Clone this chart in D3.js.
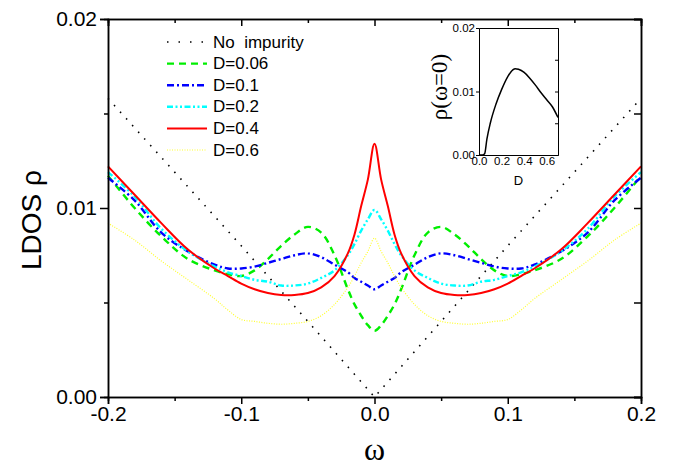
<!DOCTYPE html>
<html>
<head>
<meta charset="utf-8">
<script src="https://cdn.jsdelivr.net/npm/d3@7"></script>
<style>
  body { margin: 0; background: #fff; }
  text { font-family: "Liberation Sans", Arial, sans-serif; fill: #000; }
</style>
</head>
<body>
<div id="chart"></div>
<script>
// energy grid shared by the impurity curves
var omega = [-0.2, -0.18, -0.16, -0.14, -0.12, -0.11, -0.10, -0.09, -0.08, -0.07, -0.06, -0.05, -0.04, -0.03, -0.02, -0.015, -0.01, -0.005,
  0, 0.005, 0.01, 0.015, 0.02, 0.03, 0.04, 0.05, 0.06, 0.07, 0.08, 0.09, 0.10, 0.11, 0.12, 0.14, 0.16, 0.18, 0.2];

// clean system (no impurity)
var omegaClean = [-0.2, -0.15, -0.1, -0.05, 0, 0.05, 0.1, 0.15, 0.2];
var rhoClean = [0.0158, 0.0119, 0.0080, 0.0040, 0, 0.0040, 0.0080, 0.0119, 0.0158];

var rhoD006 = [0.0117, 0.0100, 0.0085, 0.0073, 0.0067, 0.0065, 0.0064, 0.0067, 0.0073, 0.0080, 0.0086, 0.0090, 0.0087, 0.0075, 0.0057, 0.0049, 0.0043, 0.0038,
  0.0035, 0.0038, 0.0043, 0.0049, 0.0057, 0.0075, 0.0087, 0.0090, 0.0086, 0.0080, 0.0073, 0.0067, 0.0064, 0.0065, 0.0067, 0.0073, 0.0085, 0.0100, 0.0117];
var rhoD01 = [0.0116, 0.0104, 0.0087, 0.0077, 0.0070, 0.0068, 0.0068, 0.0069, 0.0071, 0.0073, 0.0075, 0.0076, 0.0074, 0.0070, 0.0066, 0.0063, 0.0061, 0.0059,
  0.0057, 0.0059, 0.0061, 0.0063, 0.0066, 0.0070, 0.0074, 0.0076, 0.0075, 0.0073, 0.0071, 0.0069, 0.0068, 0.0068, 0.0070, 0.0077, 0.0087, 0.0104, 0.0116];
var rhoD02 = [0.0119, 0.0106, 0.0089, 0.0077, 0.0069, 0.0066, 0.0064, 0.0062, 0.0061, 0.0059, 0.0059, 0.0060, 0.0063, 0.0067, 0.0075, 0.0081, 0.0088, 0.0094,
  0.0099, 0.0094, 0.0088, 0.0081, 0.0075, 0.0067, 0.0063, 0.0060, 0.0059, 0.0059, 0.0061, 0.0062, 0.0064, 0.0066, 0.0069, 0.0077, 0.0089, 0.0106, 0.0119];
var rhoD04 = [0.0122, 0.0107, 0.0092, 0.0078, 0.0068, 0.0064, 0.0060, 0.0057, 0.0055, 0.0054, 0.0054, 0.0055, 0.0058, 0.0064, 0.0076, 0.0086, 0.0101, 0.0115,
  0.0134, 0.0115, 0.0101, 0.0086, 0.0076, 0.0064, 0.0058, 0.0055, 0.0054, 0.0054, 0.0055, 0.0057, 0.0060, 0.0064, 0.0068, 0.0078, 0.0092, 0.0107, 0.0122];
var rhoD06 = [0.0092, 0.0083, 0.0072, 0.0062, 0.0052, 0.0046, 0.0041, 0.0040, 0.0039, 0.00385, 0.0039, 0.0040, 0.0043, 0.0049, 0.0058, 0.0064, 0.0071, 0.0077,
  0.0084, 0.0077, 0.0071, 0.0064, 0.0058, 0.0049, 0.0043, 0.0040, 0.0039, 0.00385, 0.0039, 0.0040, 0.0041, 0.0046, 0.0052, 0.0062, 0.0072, 0.0083, 0.0092];

var seriesNames = ['No  impurity', 'D=0.06', 'D=0.1', 'D=0.2', 'D=0.4', 'D=0.6'];

// inset: rho(omega=0) against D
var insetD = [0, 0.03, 0.05, 0.07, 0.1, 0.15, 0.2, 0.25, 0.3, 0.32, 0.35, 0.4, 0.45, 0.5, 0.55, 0.6, 0.65, 0.7];
var insetRho = [0, 0, 0.0002, 0.0025, 0.0050, 0.0080, 0.0103, 0.0122, 0.0134, 0.0136, 0.0135, 0.0130, 0.0121, 0.0110, 0.0098, 0.0087, 0.0076, 0.0059];

var xTicks = [-0.2, -0.1, 0, 0.1, 0.2];
var xMinor = [-0.15, -0.05, 0.05, 0.15];
var yTicks = [0, 0.01, 0.02];
var yMinor = [0.005, 0.015];

// series styles
var styles = [
  { color: '#000000', width: 1.6, dash: '1.5,7.5' },
  { color: '#00ee00', width: 2.4, dash: '7,5' },
  { color: '#0000ff', width: 2.4, dash: '7,3,2,3' },
  { color: '#00ffff', width: 2.4, dash: '6,2.5,2,2.5,2,2.5' },
  { color: '#ff0000', width: 2, dash: null },
  { color: '#ffff30', width: 1.2, dash: '1,1.5' }
];

var series = [
  { x: omegaClean, y: rhoClean },
  { x: omega, y: rhoD006 },
  { x: omega, y: rhoD01 },
  { x: omega, y: rhoD02 },
  { x: omega, y: rhoD04 },
  { x: omega, y: rhoD06 }
];

var margin = { top: 19, right: 46, bottom: 69, left: 108 },
  width = 687 - margin.left - margin.right,
  height = 466 - margin.top - margin.bottom;

var svg = d3.select('#chart')
  .append('svg')
  .attr('width', 687)
  .attr('height', 466);

svg.append('rect').attr('width', 687).attr('height', 466).attr('fill', '#fff');

var g = svg.append('g')
  .attr('transform', 'translate(' + margin.left + ',' + margin.top + ')');

var x = d3.scaleLinear().domain([-0.2, 0.2]).range([0, width]);
var y = d3.scaleLinear().domain([0, 0.02]).range([height, 0]);

function styleAxis(sel, size) {
  sel.select('.domain').attr('stroke', '#000').attr('stroke-width', 1.5);
  sel.selectAll('.tick line').attr('stroke', '#000').attr('stroke-width', 1.5);
  sel.selectAll('text').attr('font-size', size).attr('font-family', '"Liberation Sans", Arial, sans-serif');
}

// curves
var line = d3.line()
  .x(function(d) { return x(d[0]); })
  .y(function(d) { return y(d[1]); });

series.forEach(function(s, i) {
  var pts = s.x.map(function(v, j) { return [v, s.y[j]]; });
  g.append('path')
    .attr('d', i === 0 ? line.curve(d3.curveLinear)(pts) : line.curve(d3.curveCatmullRom.alpha(0.5))(pts))
    .attr('fill', 'none')
    .attr('stroke', styles[i].color)
    .attr('stroke-width', styles[i].width)
    .attr('stroke-dasharray', styles[i].dash);
});

// main axes
g.append('g').attr('transform', 'translate(0,' + height + ')')
  .call(d3.axisBottom(x).tickValues(xTicks).tickSize(7).tickPadding(2)
    .tickFormat(function(d) { return d.toFixed(1); }))
  .call(styleAxis, 21);
g.append('g').attr('transform', 'translate(0,' + height + ')')
  .call(d3.axisBottom(x).tickValues(xMinor).tickSize(4).tickFormat(''))
  .call(styleAxis, 21);
g.append('g')
  .call(d3.axisLeft(y).tickValues(yTicks).tickSize(8).tickPadding(3)
    .tickFormat(function(d) { return d.toFixed(2); }))
  .call(styleAxis, 21);
g.append('g')
  .call(d3.axisLeft(y).tickValues(yMinor).tickSize(4).tickFormat(''))
  .call(styleAxis, 21);
g.append('g')
  .call(d3.axisTop(x).tickValues(xTicks).tickSize(-7).tickFormat(''))
  .call(styleAxis, 21);
g.append('g')
  .call(d3.axisTop(x).tickValues(xMinor).tickSize(-4).tickFormat(''))
  .call(styleAxis, 21);
g.append('g').attr('transform', 'translate(' + width + ',0)')
  .call(d3.axisRight(y).tickValues(yTicks).tickSize(-7).tickFormat(''))
  .call(styleAxis, 21);
g.append('g').attr('transform', 'translate(' + width + ',0)')
  .call(d3.axisRight(y).tickValues(yMinor).tickSize(-7).tickFormat(''))
  .call(styleAxis, 21);

// axis titles
svg.append('text')
  .attr('transform', 'translate(31,220) rotate(-90)')
  .attr('text-anchor', 'middle')
  .attr('dominant-baseline', 'central')
  .attr('font-size', 28)
  .text('LDOS ρ');

svg.append('text')
  .attr('x', margin.left + x(0))
  .attr('y', 460)
  .attr('text-anchor', 'middle')
  .style('font-family', '"Liberation Serif", "Times New Roman", serif')
  .attr('font-size', 32)
  .text('ω');

// legend
var legend = svg.append('g').attr('transform', 'translate(167,42)');
seriesNames.forEach(function(name, i) {
  var row = legend.append('g').attr('transform', 'translate(0,' + i * 21.6 + ')');
  row.append('line')
    .attr('x1', 0).attr('x2', 40)
    .attr('stroke', styles[i].color)
    .attr('stroke-width', styles[i].width)
    .attr('stroke-dasharray', i === 0 ? '1.5,10' : styles[i].dash);
  row.append('text')
    .attr('x', 46)
    .attr('dominant-baseline', 'central')
    .attr('font-size', 17)
    .style('white-space', 'pre')
    .text(name);
});

// inset
var inset = { left: 479, top: 28, w: 79, h: 127 };
var ix = d3.scaleLinear().domain([0, 0.7]).range([0, inset.w]);
var iy = d3.scaleLinear().domain([0, 0.02]).range([inset.h, 0]);
var gi = svg.append('g').attr('transform', 'translate(' + inset.left + ',' + inset.top + ')');

gi.append('path')
  .datum(insetD.map(function(d, j) { return [d, insetRho[j]]; }))
  .attr('d', d3.line()
    .x(function(d) { return ix(d[0]); })
    .y(function(d) { return iy(d[1]); })
    .curve(d3.curveMonotoneX))
  .attr('fill', 'none')
  .attr('stroke', '#000')
  .attr('stroke-width', 1.5);

function styleInset(sel) {
  sel.select('.domain').attr('stroke', '#000').attr('stroke-width', 1);
  sel.selectAll('.tick line').attr('stroke', '#000').attr('stroke-width', 1);
  sel.selectAll('text').attr('font-size', 11.5).attr('font-family', '"Liberation Sans", Arial, sans-serif');
}

gi.append('g').attr('transform', 'translate(0,' + inset.h + ')')
  .call(d3.axisBottom(ix).tickValues([0, 0.2, 0.4, 0.6]).tickSize(0).tickPadding(2)
    .tickFormat(function(d) { return d.toFixed(1); }))
  .call(styleInset);
gi.append('g')
  .call(d3.axisLeft(iy).tickValues([0, 0.01, 0.02]).tickSize(3).tickPadding(1)
    .tickFormat(function(d) { return d.toFixed(2); }))
  .call(styleInset);
gi.append('g')
  .call(d3.axisTop(ix).tickValues([0.1, 0.2, 0.3, 0.4, 0.5, 0.6]).tickSize(0).tickFormat(''))
  .call(styleInset);
gi.append('g').attr('transform', 'translate(' + inset.w + ',0)')
  .call(d3.axisRight(iy).tickValues([0.005, 0.01, 0.015]).tickSize(-3).tickFormat(''))
  .call(styleInset);

svg.append('text')
  .attr('x', inset.left + inset.w / 2)
  .attr('y', 180)
  .attr('text-anchor', 'middle')
  .attr('dominant-baseline', 'central')
  .attr('font-size', 13)
  .text('D');

svg.append('text')
  .attr('transform', 'translate(439,87) rotate(-90)')
  .attr('text-anchor', 'middle')
  .attr('dominant-baseline', 'central')
  .style('font-family', '"Liberation Serif", "Times New Roman", serif')
  .attr('font-size', 23)
  .text('ρ(ω=0)');
</script>
</body>
</html>
